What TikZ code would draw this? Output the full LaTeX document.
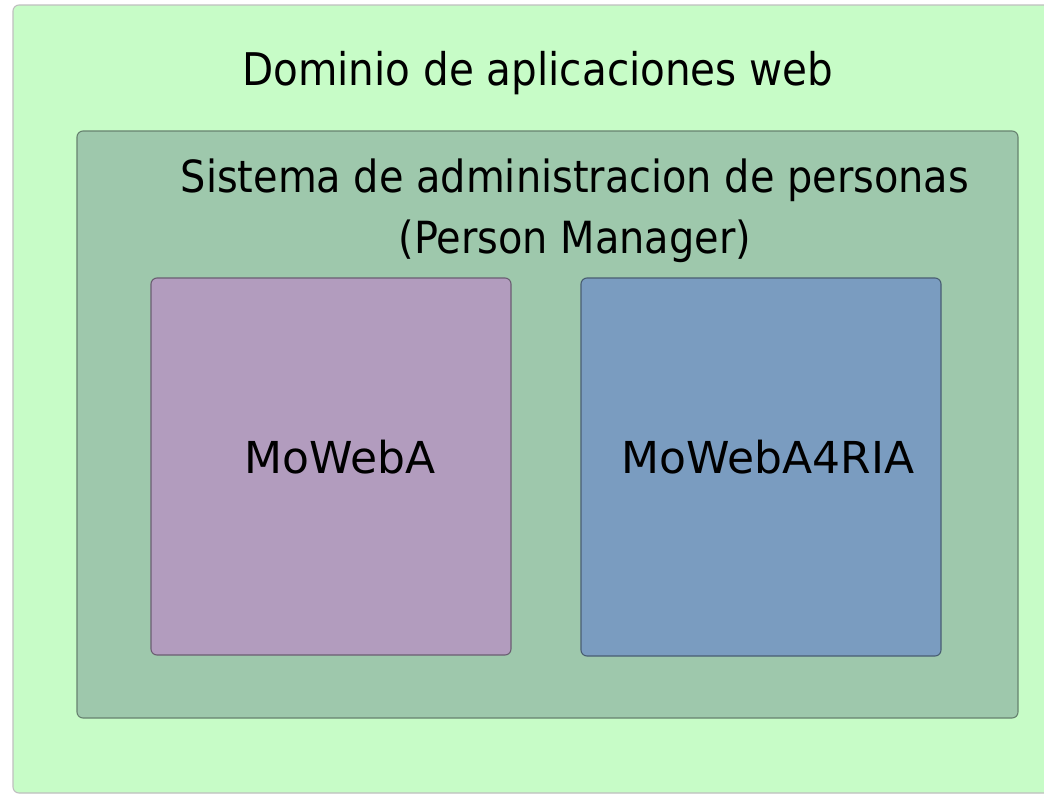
\documentclass[tikz,border=0pt]{standalone}
\usepackage{fontspec}
\setmainfont{DejaVu Sans}
\newfontfamily\condfont{DejaVu Sans Condensed}
\usetikzlibrary{positioning}

\definecolor{dominio}{HTML}{C7FCC7}
\definecolor{sistema}{HTML}{9EC8AC}
\definecolor{moweba}{HTML}{B29CBE}
\definecolor{mowebria}{HTML}{7A9CC0}

\begin{document}
\begin{tikzpicture}[x=1pt, y=-1pt,
        caja/.style={draw, line width=1.1pt, rounded corners=6pt},
        titulo/.style={font=\condfont\fontsize{45}{61}\selectfont, align=center},
        etiqueta/.style={font=\fontsize{44}{50}\selectfont}]
        \useasboundingbox (0,0) rectangle (1044,795);
        \fill[white] (0,0) rectangle (1044,795);

        \draw[caja, fill=dominio, draw=black!25] (13,5) rectangle (1070,793);
        \draw[caja, fill=sistema, draw=black!35!sistema] (77,131) rectangle (1018,718);
        \draw[caja, fill=moweba, draw=black!40!moweba] (151,278) rectangle (511,655);
        \draw[caja, fill=mowebria, draw=black!40!mowebria] (581,278) rectangle (941,656);

        \node[titulo, anchor=base] (dom) at (538,85) {Dominio de aplicaciones web};
        \node[titulo, font=\condfont\fontsize{44.3}{61}\selectfont, anchor=base] (sis) at (575,253)
            {Sistema de administracion de personas\\(Person Manager)};
        \node[etiqueta, anchor=base] (mw) at (340,473) {MoWebA};
        \node[etiqueta, anchor=base] (mwr) at (768,473) {MoWebA4RIA};
    \end{tikzpicture}
\end{document}
